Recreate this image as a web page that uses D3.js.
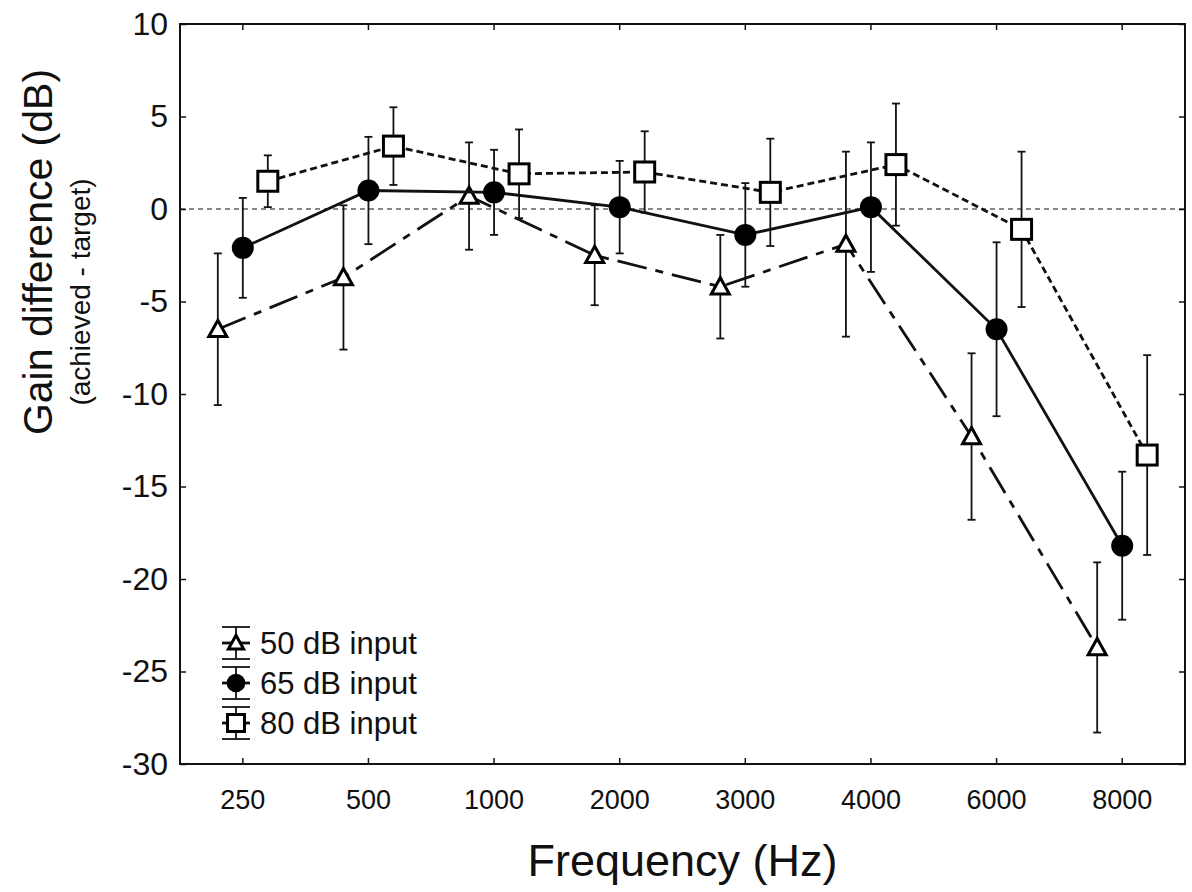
<!DOCTYPE html>
<html>
<head>
<meta charset="utf-8">
<script src="https://cdn.jsdelivr.net/npm/d3@7"></script>
<style>
  body { margin: 0; background: #fff; }
  text { font-family: "Liberation Sans", Arial, sans-serif; fill: #111; }
</style>
</head>
<body>
<div id="chart"></div>
<script>
// Chart values
var frequencies = ["250", "500", "1000", "2000", "3000", "4000", "6000", "8000"];
var input50 = [-6.5, -3.7, 0.7, -2.5, -4.2, -1.9, -12.3, -23.7];
var err50 = [4.1, 3.9, 2.9, 2.7, 2.8, 5.0, 4.5, 4.6];
var input65 = [-2.1, 1.0, 0.9, 0.1, -1.4, 0.1, -6.5, -18.2];
var err65 = [2.7, 2.9, 2.3, 2.5, 2.8, 3.5, 4.7, 4.0];
var input80 = [1.5, 3.4, 1.9, 2.0, 0.9, 2.4, -1.1, -13.3];
var err80 = [1.4, 2.1, 2.4, 2.2, 2.9, 3.3, 4.2, 5.4];
var yTicks = [10, 5, 0, -5, -10, -15, -20, -25, -30];
var legendLabels = ["50 dB input", "65 dB input", "80 dB input"];

var svgWidth = 1192;
var svgHeight = 892;
var margin = { top: 24, right: 7, bottom: 128, left: 180 };
var width = svgWidth - margin.left - margin.right;
var height = svgHeight - margin.top - margin.bottom;

var svg = d3.select("#chart")
  .append("svg")
  .attr("width", svgWidth)
  .attr("height", svgHeight);

var chartGroup = svg.append("g")
  .attr("transform", `translate(${margin.left}, ${margin.top})`);

var xScale = d3.scaleBand()
  .domain(frequencies)
  .range([0, width]);

var yScale = d3.scaleLinear()
  .domain([-30, 10])
  .range([height, 0]);

// series definitions built from the arrays
var series = [
  { label: legendLabels[0], values: input50, errs: err50, offset: -25, shape: "triangle", dash: "30,9,8,9" },
  { label: legendLabels[1], values: input65, errs: err65, offset: 0, shape: "circle", dash: null },
  { label: legendLabels[2], values: input80, errs: err80, offset: 25, shape: "square", dash: "7,4" }
];

function xPos(i, offset) {
  return xScale(frequencies[i]) + xScale.bandwidth() / 2 + offset;
}

// axes: ticks inward on all four sides
var bottomAxis = d3.axisBottom(xScale).tickSizeInner(-6).tickSizeOuter(0).tickPadding(26);
var topAxis = d3.axisTop(xScale).tickSizeInner(-6).tickSizeOuter(0).tickFormat("");
var leftAxis = d3.axisLeft(yScale).tickValues(yTicks).tickSizeInner(-6).tickSizeOuter(0)
  .tickPadding(12).tickFormat(d => String(d));
var rightAxis = d3.axisRight(yScale).tickValues(yTicks).tickSizeInner(-6).tickSizeOuter(0).tickFormat("");

var gx = chartGroup.append("g").attr("transform", `translate(0, ${height})`).call(bottomAxis);
gx.selectAll("text").style("font-size", "27px").attr("dy", "0.71em");
chartGroup.append("g").call(topAxis);
var gy = chartGroup.append("g").call(leftAxis);
gy.selectAll("text").style("font-size", "32px");
chartGroup.append("g").attr("transform", `translate(${width}, 0)`).call(rightAxis);

chartGroup.selectAll(".domain").remove();
chartGroup.selectAll(".tick line").attr("stroke", "#111").attr("stroke-width", 1.5);

// frame
chartGroup.append("rect")
  .attr("x", 0).attr("y", 0)
  .attr("width", width).attr("height", height)
  .attr("fill", "none")
  .attr("stroke", "#111")
  .attr("stroke-width", 2);

// zero reference line
chartGroup.append("line")
  .attr("x1", 0).attr("x2", width)
  .attr("y1", yScale(0)).attr("y2", yScale(0))
  .attr("stroke", "#111")
  .attr("stroke-width", 1.2)
  .attr("stroke-dasharray", "5,4");

function drawMarker(g, shape, cx, cy, s) {
  if (shape === "circle") {
    g.append("circle").attr("cx", cx).attr("cy", cy).attr("r", 11 * s).attr("fill", "#000");
  } else if (shape === "square") {
    var h = 10 * s;
    g.append("rect").attr("x", cx - h).attr("y", cy - h).attr("width", 2 * h).attr("height", 2 * h)
      .attr("fill", "#fff").attr("stroke", "#000").attr("stroke-width", 3);
  } else {
    var t = 9 * s;
    g.append("path")
      .attr("d", `M${cx},${cy - t}L${cx + t},${cy + t * 0.8}L${cx - t},${cy + t * 0.8}Z`)
      .attr("fill", "#fff").attr("stroke", "#000").attr("stroke-width", 3);
  }
}

series.forEach(function(s) {
  var g = chartGroup.append("g");

  // error bars
  s.values.forEach(function(v, i) {
    var cx = xPos(i, s.offset);
    var y1 = yScale(v + s.errs[i]);
    var y2 = yScale(v - s.errs[i]);
    g.append("line").attr("x1", cx).attr("x2", cx).attr("y1", y1).attr("y2", y2)
      .attr("stroke", "#111").attr("stroke-width", 1.8);
    [y1, y2].forEach(function(yy) {
      g.append("line").attr("x1", cx - 4).attr("x2", cx + 4).attr("y1", yy).attr("y2", yy)
        .attr("stroke", "#111").attr("stroke-width", 1.8);
    });
  });

  // connecting line
  var line = d3.line()
    .x((d, i) => xPos(i, s.offset))
    .y(d => yScale(d));
  g.append("path")
    .datum(s.values)
    .attr("d", line)
    .attr("fill", "none")
    .attr("stroke", "#111")
    .attr("stroke-width", 2.8)
    .attr("stroke-dasharray", s.dash);

  s.values.forEach(function(v, i) {
    drawMarker(g, s.shape, xPos(i, s.offset), yScale(v), 1);
  });
});

// legend
var legend = svg.append("g").attr("transform", "translate(236, 643)");
series.forEach(function(s, i) {
  var row = legend.append("g").attr("transform", `translate(0, ${i * 40})`);
  row.append("line").attr("x1", 0).attr("x2", 0).attr("y1", -16).attr("y2", 16)
    .attr("stroke", "#111").attr("stroke-width", 1.8);
  [-16, 16].forEach(function(yy) {
    row.append("line").attr("x1", -14).attr("x2", 14).attr("y1", yy).attr("y2", yy)
      .attr("stroke", "#111").attr("stroke-width", 1.8);
  });
  row.append("line").attr("x1", -14).attr("x2", 14).attr("y1", 0).attr("y2", 0)
    .attr("stroke", "#111").attr("stroke-width", 2.8);
  drawMarker(row, s.shape, 0, 0, 0.85);
  row.append("text")
    .attr("x", 24).attr("y", 11)
    .style("font-size", "31px")
    .text(s.label);
});

// axis titles
svg.append("text")
  .attr("x", margin.left + width / 2)
  .attr("y", 876)
  .attr("text-anchor", "middle")
  .style("font-size", "45px")
  .text("Frequency (Hz)");

svg.append("text")
  .attr("transform", "translate(52, 252) rotate(-90)")
  .attr("text-anchor", "middle")
  .style("font-size", "41px")
  .text("Gain difference (dB)");

svg.append("text")
  .attr("transform", "translate(90, 292) rotate(-90)")
  .attr("text-anchor", "middle")
  .style("font-size", "28px")
  .text("(achieved - target)");
</script>
</body>
</html>
